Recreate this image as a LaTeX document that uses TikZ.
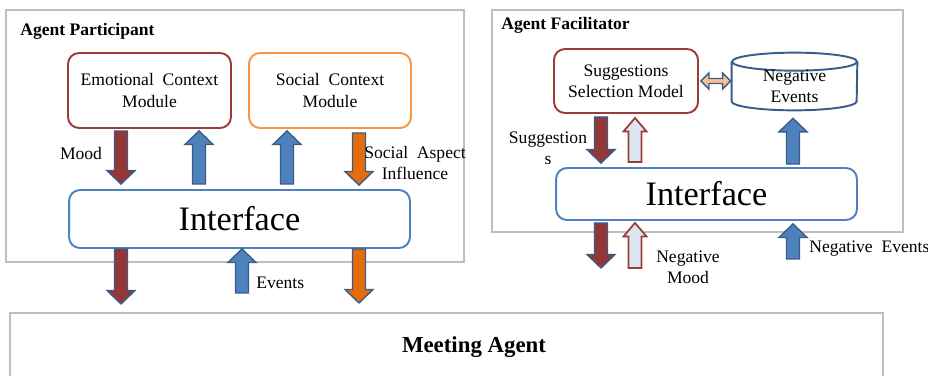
\documentclass[tikz,border=0pt]{standalone}
\usepackage{fontspec}
\setmainfont{Liberation Serif}
\usetikzlibrary{calc}
\definecolor{panelgray}{HTML}{BFBFBF}
\definecolor{moodred}{HTML}{943634}
\definecolor{modred}{HTML}{9B3B3A}
\definecolor{socorange}{HTML}{F79646}
\definecolor{inforange}{HTML}{E46C0A}
\definecolor{evblue}{HTML}{4F81BD}
\definecolor{edgeblue}{HTML}{385D8A}
\definecolor{paleblue}{HTML}{DCE6F2}
\definecolor{paleorange}{HTML}{FAC090}
% vertical block arrow: [head half width]{style}{from}{to}
\newcommand{\blockarr}[4][0.28cm]{%
  \filldraw[#2] let \p1=(#3), \p2=(#4), \n1={ifthenelse(\y2>\y1,0.27cm,-0.27cm)} in
    ({\x1-0.13cm},\y1) -- ({\x1-0.13cm},{\y2-(\n1)}) -- ({\x1-#1},{\y2-(\n1)})
    -- (\x1,\y2) -- ({\x1+#1},{\y2-(\n1)}) -- ({\x1+0.13cm},{\y2-(\n1)})
    -- ({\x1+0.13cm},\y1) -- cycle;}
\begin{document}
\begin{tikzpicture}[x=0.02cm,y=-0.02cm,
  panel/.style={draw=panelgray,line width=1.2pt,minimum width=#1},
  module/.style={draw,fill=white,rounded corners=0.22cm,line width=1.1pt,align=center,
    font=\fontsize{10}{12}\selectfont},
  iface/.style={module,draw=evblue,font=\fontsize{19.5}{22}\selectfont},
  title/.style={font=\fontsize{10}{12}\selectfont\bfseries,anchor=west,inner sep=0pt},
  lbl/.style={font=\fontsize{10}{12}\selectfont,align=center,inner sep=0pt},
  redarr/.style={fill=moodred,draw=edgeblue,line width=0.8pt},
  orarr/.style={fill=inforange,draw=edgeblue,line width=0.8pt},
  bluearr/.style={fill=evblue,draw=edgeblue,line width=0.8pt},
  palearr/.style={fill=paleblue,draw=modred,line width=1pt}]
\useasboundingbox (0,0) rectangle (928,375);

% Agent Participant
\node[panel=9.16cm,minimum height=5.04cm] (partic) at (235,136) {};
\node[title] at (20,31) {Agent Participant};
\node[module,draw=modred,minimum width=3.26cm,minimum height=1.5cm] (emo) at (149.5,90.5)
  {Emotional\ \ Context\\Module};
\node[module,draw=socorange,minimum width=3.24cm,minimum height=1.5cm] (social) at (330,90.5)
  {Social\ \ Context\\Module};
\node[iface,minimum width=6.82cm,minimum height=1.16cm] (ifaceP) at (239.5,219) {Interface};

\blockarr{redarr}{$(emo.south)+(-28.5,2)$}{$(ifaceP.north)+(-118.5,-5)$}
\blockarr{bluearr}{$(ifaceP.north)+(-40.5,-5)$}{$(emo.south)+(49.5,2)$}
\blockarr{bluearr}{$(ifaceP.north)+(47.5,-5)$}{$(social.south)+(-43,2)$}
\blockarr{orarr}{$(social.south)+(29,4)$}{$(ifaceP.north)+(119.5,-4)$}
\node[lbl] (moodlbl) at (81,153) {Mood};
\node[lbl] (soclbl) at (415,163) {Social\ \ Aspect\\Influence};

% towards the meeting agent
\coordinate (redend) at ($(ifaceP.south)+(-118.5,55)$);
\coordinate (evstart) at ($(ifaceP.south)+(2.5,44)$);
\coordinate (orend) at ($(ifaceP.south)+(119.5,54)$);
\blockarr{redarr}{$(ifaceP.south)+(-118.5,0)$}{redend}
\blockarr{bluearr}{evstart}{$(ifaceP.south)+(2.5,0)$}
\blockarr{orarr}{$(ifaceP.south)+(119.5,0)$}{orend}
\node[lbl,anchor=west] (evlbl) at (256,283) {Events};

% Agent Facilitator
\node[panel=8.22cm,minimum height=4.44cm] (facil) at (697.5,121) {};
\node[title] at (501,25) {Agent Facilitator};
\node[module,draw=modred,minimum width=2.88cm,minimum height=1.28cm] (sugg) at (626,81)
  {Suggestions\\Selection Model};
\node[lbl,minimum width=2.5cm,minimum height=0.96cm] (negev) at (794.5,86) {};
\draw[draw=edgeblue,line width=1.1pt,fill=white] (negev.north west) -- ($(negev.south west)+(0,-9)$)
  arc[start angle=180,end angle=360,x radius=1.25cm,y radius=0.18cm] -- (negev.north east);
\draw[draw=edgeblue,line width=1.1pt] (negev.north) ellipse[x radius=1.25cm,y radius=0.18cm];
\node[lbl] at (negev) {Negative\\Events};
\node[iface,minimum width=6.02cm,minimum height=1.04cm] (ifaceF) at (706.5,194) {Interface};

\filldraw[fill=paleorange,draw=edgeblue,line width=0.8pt]
  let \p1=($(sugg.east)+(2,0)$), \p2=($(negev.west |- sugg.east)+(-1,0)$) in
  (\x1,\y1) -- ({\x1+0.16cm},{\y1+0.16cm}) -- ({\x1+0.16cm},{\y1+0.05cm}) -- ({\x2-0.16cm},{\y1+0.05cm})
  -- ({\x2-0.16cm},{\y1+0.16cm}) -- (\x2,\y1) -- ({\x2-0.16cm},{\y1-0.16cm}) -- ({\x2-0.16cm},{\y1-0.05cm})
  -- ({\x1+0.16cm},{\y1-0.05cm}) -- ({\x1+0.16cm},{\y1-0.16cm}) -- cycle;

\blockarr{redarr}{$(sugg.south)+(-25,3)$}{$(ifaceF.north)+(-105.5,-4)$}
\blockarr[0.23cm]{palearr}{$(ifaceF.north)+(-71.5,-5)$}{$(sugg.south)+(9,4)$}
\blockarr{bluearr}{$(ifaceF.north)+(86.5,-3)$}{$(negev.south)+(-1.5,8)$}
\node[lbl] (sugglbl) at (548,148.5) {Suggestion\\s};

\coordinate (negred) at ($(ifaceF.south)+(-105.5,47)$);
\coordinate (negmood) at ($(ifaceF.south)+(-71.5,47)$);
\coordinate (negin) at ($(ifaceF.south)+(86.5,38)$);
\blockarr{redarr}{$(ifaceF.south)+(-105.5,2)$}{negred}
\blockarr[0.23cm]{palearr}{negmood}{$(ifaceF.south)+(-71.5,2)$}
\blockarr{bluearr}{negin}{$(ifaceF.south)+(86.5,3)$}
\node[lbl] (nmlbl) at (688,267) {Negative\\Mood};
\node[lbl,anchor=west] (nelbl) at (809,249) {Negative\ \ Events};

% Meeting Agent
\draw[draw=panelgray,line width=1.2pt] (10,380) -- (10,313) -- (883,313) -- (883,380);
\node[font=\fontsize{13}{15}\selectfont\bfseries] (meeting) at (474,347) {Meeting Agent};
\end{tikzpicture}
\end{document}
